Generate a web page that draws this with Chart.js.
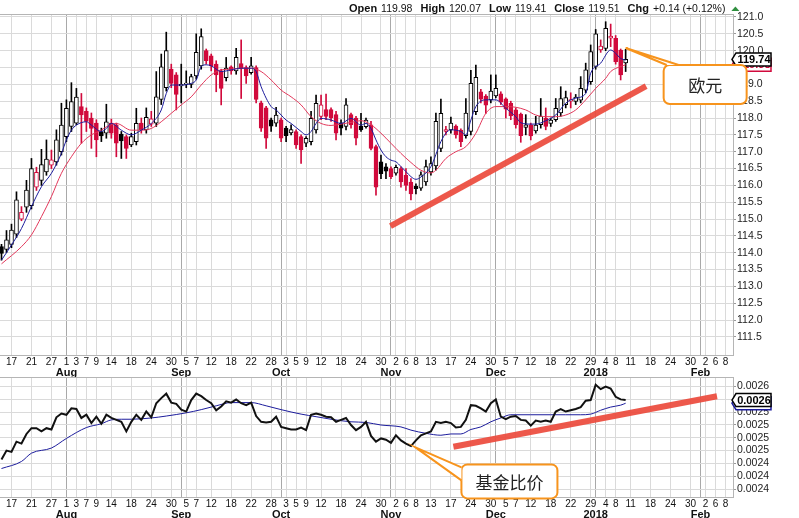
<!DOCTYPE html>
<html>
<head>
<meta charset="utf-8">
<script src="https://cdn.jsdelivr.net/npm/chart.js@4.4.1/dist/chart.umd.min.js"></script>
<style>
  html, body { margin: 0; padding: 0; background: #fff; }
  body { width: 799px; height: 518px; position: relative; overflow: hidden; }
  #wrapTop { position: absolute; left: -1px; top: 0; width: 800px; height: 377px; }
  #wrapBottom { position: absolute; left: -1px; top: 376px; width: 800px; height: 142px; }
</style>
</head>
<body>
<div id="wrapTop"><canvas id="priceChart"></canvas></div>
<div id="wrapBottom"><canvas id="ratioChart"></canvas></div>
<script>
// trading days shown on the axis (data runs to 2018-01-10, axis to 2018-02-09)
const dates = [
  "2017-07-13","2017-07-14","2017-07-17","2017-07-18","2017-07-19","2017-07-20","2017-07-21","2017-07-24","2017-07-25","2017-07-26","2017-07-27","2017-07-28","2017-07-31",
  "2017-08-01","2017-08-02","2017-08-03","2017-08-04","2017-08-07","2017-08-08","2017-08-09","2017-08-10","2017-08-11","2017-08-14","2017-08-15","2017-08-16","2017-08-17","2017-08-18","2017-08-21","2017-08-22","2017-08-23","2017-08-24","2017-08-25","2017-08-28","2017-08-29","2017-08-30","2017-08-31",
  "2017-09-01","2017-09-05","2017-09-06","2017-09-07","2017-09-08","2017-09-11","2017-09-12","2017-09-13","2017-09-14","2017-09-15","2017-09-18","2017-09-19","2017-09-20","2017-09-21","2017-09-22","2017-09-25","2017-09-26","2017-09-27","2017-09-28","2017-09-29",
  "2017-10-02","2017-10-03","2017-10-04","2017-10-05","2017-10-06","2017-10-09","2017-10-10","2017-10-11","2017-10-12","2017-10-13","2017-10-16","2017-10-17","2017-10-18","2017-10-19","2017-10-20","2017-10-23","2017-10-24","2017-10-25","2017-10-26","2017-10-27","2017-10-30","2017-10-31",
  "2017-11-01","2017-11-02","2017-11-03","2017-11-06","2017-11-07","2017-11-08","2017-11-09","2017-11-10","2017-11-13","2017-11-14","2017-11-15","2017-11-16","2017-11-17","2017-11-20","2017-11-21","2017-11-22","2017-11-24","2017-11-27","2017-11-28","2017-11-29","2017-11-30",
  "2017-12-01","2017-12-04","2017-12-05","2017-12-06","2017-12-07","2017-12-08","2017-12-11","2017-12-12","2017-12-13","2017-12-14","2017-12-15","2017-12-18","2017-12-19","2017-12-20","2017-12-21","2017-12-22","2017-12-26","2017-12-27","2017-12-28","2017-12-29",
  "2018-01-02","2018-01-03","2018-01-04","2018-01-05","2018-01-08","2018-01-09","2018-01-10","2018-01-11","2018-01-12","2018-01-16","2018-01-17","2018-01-18","2018-01-19","2018-01-22","2018-01-23","2018-01-24","2018-01-25","2018-01-26","2018-01-29","2018-01-30","2018-01-31",
  "2018-02-01","2018-02-02","2018-02-05","2018-02-06","2018-02-07","2018-02-08","2018-02-09"
];

const dayTicks = ["2017-07-17","2017-07-21","2017-07-27","2017-08-01","2017-08-03","2017-08-07","2017-08-09","2017-08-14","2017-08-18","2017-08-24","2017-08-30",
  "2017-09-05","2017-09-07","2017-09-12","2017-09-18","2017-09-22","2017-09-28","2017-10-03","2017-10-05","2017-10-09","2017-10-12","2017-10-18","2017-10-24","2017-10-30",
  "2017-11-02","2017-11-06","2017-11-08","2017-11-13","2017-11-17","2017-11-24","2017-11-30","2017-12-05","2017-12-07","2017-12-12","2017-12-18","2017-12-22","2017-12-29",
  "2018-01-04","2018-01-08","2018-01-11","2018-01-18","2018-01-24","2018-01-30","2018-02-02","2018-02-06","2018-02-08"];
const monthDates = ["2017-08-01","2017-09-01","2017-10-02","2017-11-01","2017-12-01","2018-01-02","2018-02-01"];
const monthNames = ["Aug","Sep","Oct","Nov","Dec","2018","Feb"];

const priceTicks = [121.0,120.5,120.0,119.5,119.0,118.5,118.0,117.5,117.0,116.5,116.0,115.5,115.0,114.5,114.0,113.5,113.0,112.5,112.0,111.5];
const ratioTicks = [0.00256,0.00254,0.00252,0.00250,0.00248,0.00246,0.00244,0.00242,0.00240];

// EUR candles
const opens = [114.18,114.10,114.25,114.55,115.00,115.35,115.40,115.95,116.15,116.40,
  116.60,116.70,117.00,117.45,117.75,117.85,118.34,118.20,118.00,117.85,
  117.60,117.55,117.85,117.80,117.52,117.45,117.20,117.30,117.85,117.65,
  117.82,117.85,118.55,118.90,119.45,119.28,118.95,119.00,119.00,119.25,
  119.55,120.00,119.85,119.60,119.40,119.20,119.52,119.40,119.62,119.50,
  119.35,119.50,118.45,118.30,117.95,117.85,117.95,117.70,117.56,117.60,
  117.45,117.25,117.30,117.65,118.05,118.25,118.25,118.10,117.85,117.75,
  118.10,118.00,117.75,117.74,117.80,117.15,116.70,116.55,116.50,116.36,
  116.50,116.30,116.10,115.97,115.92,116.10,116.40,116.58,117.10,117.60,
  117.65,117.76,117.64,117.48,117.60,118.19,118.78,118.65,118.54,118.66,
  118.72,118.57,118.44,118.24,118.12,117.72,117.80,117.62,117.80,117.99,
  117.84,117.95,118.15,118.40,118.50,118.49,118.53,118.83,119.08,119.53,
  120.02,120.07,120.37,120.37,120.02,119.64];
const highs = [114.25,114.66,114.85,115.81,115.37,116.15,116.80,116.54,117.07,117.35,
  117.05,117.65,118.44,118.54,119.05,118.88,118.73,118.30,118.15,117.95,
  117.70,118.41,117.97,117.85,117.60,117.50,117.55,118.29,118.00,118.30,
  118.20,119.38,119.90,120.55,119.60,119.35,119.60,119.40,119.30,120.50,
  120.65,120.05,119.90,119.70,119.45,119.80,119.55,120.07,120.32,119.55,
  119.80,119.55,118.50,118.35,118.00,118.32,118.00,117.75,117.80,117.65,
  117.50,117.45,118.20,118.68,118.68,118.71,118.30,118.20,117.95,118.58,
  118.15,118.05,118.14,118.00,117.90,117.20,116.90,116.65,116.55,116.60,
  116.55,116.50,116.20,116.05,116.40,116.75,116.85,118.15,118.56,117.75,
  118.03,117.80,117.68,118.58,119.42,119.57,118.85,118.70,119.28,119.28,
  118.78,118.60,118.50,118.30,118.15,118.10,117.85,118.05,118.58,118.30,
  118.00,118.58,118.93,118.80,118.75,118.70,119.23,119.63,120.17,120.63,
  120.32,120.86,120.79,120.45,120.05,120.04];
const lows = [113.78,114.00,114.15,114.45,114.95,115.20,115.30,115.85,116.00,116.30,
  116.50,116.60,116.90,117.30,117.60,117.80,117.25,117.60,117.10,116.85,
  117.30,117.40,117.40,116.85,116.80,116.80,117.15,117.20,117.55,117.55,
  117.75,117.75,118.40,118.80,118.90,118.24,118.45,118.90,118.90,119.15,
  119.45,119.60,119.40,118.78,118.39,119.10,119.30,119.30,118.58,119.03,
  119.30,118.45,117.60,117.10,117.60,117.75,117.30,117.30,117.50,117.10,
  116.65,117.15,117.20,117.55,117.95,117.95,117.90,117.35,117.50,117.65,
  117.70,117.20,117.60,117.70,117.05,115.71,116.20,116.20,116.20,116.30,
  115.95,115.85,115.57,115.75,115.85,116.00,116.30,116.45,117.00,117.50,
  117.55,117.40,117.15,117.40,117.50,118.10,118.45,118.14,118.45,118.60,
  118.40,118.00,117.95,117.70,117.28,117.50,117.35,117.55,117.70,117.65,
  117.75,117.90,118.05,118.30,118.30,118.40,118.45,118.75,119.00,119.45,
  119.95,120.00,120.12,119.60,119.13,119.38];
const closes = [113.98,114.38,114.67,115.57,115.20,115.86,116.50,116.39,116.62,116.78,
  116.76,117.35,117.79,118.29,118.49,118.62,118.09,117.90,117.69,117.35,
  117.47,117.89,117.55,117.25,117.32,117.10,117.45,117.84,117.65,118.02,
  117.98,118.63,119.52,120.00,119.03,118.70,119.00,119.04,119.23,119.95,
  120.42,119.70,119.55,119.28,118.88,119.48,119.40,119.80,119.48,119.25,
  119.55,118.55,117.70,117.40,117.76,118.09,117.40,117.48,117.66,117.20,
  117.05,117.40,117.99,118.44,118.39,118.05,118.00,117.55,117.70,118.39,
  117.80,117.40,117.65,117.94,117.10,115.95,116.35,116.42,116.26,116.54,
  116.10,116.00,115.75,115.90,116.31,116.56,116.65,117.90,118.14,117.66,
  117.85,117.50,117.30,118.15,119.03,119.21,118.56,118.38,118.80,118.88,
  118.47,118.26,118.06,117.80,117.48,117.80,117.47,117.79,118.06,117.75,
  117.94,118.29,118.58,118.61,118.55,118.62,118.88,119.43,119.97,120.50,
  120.14,120.66,120.43,119.67,119.28,119.74];

// moving averages (bar index -> value)
const fastIdx = [0,2,4,6,8,10,12,13,14,15, 17,18,20,21,22,24,26,28,30,32,
  33,34,36,38,39,40,41,42,44,46, 48,50,51,52,54,55,57,58,60,61,
  62,63,64,66,68,70,72,73,74,75, 76,77,78,79,80,81,82,83,84,86,
  88,89,90,92,93,94,95,97,99,101, 103,104,106,107,109,111,113,115,117,118,
  120,122,123,124,125];
const fastVal = [113.78,114.23,114.72,115.37,115.96,116.36,116.95,117.35,117.64,117.79,
  117.89,117.79,117.60,117.69,117.84,117.64,117.50,117.64,117.84,118.24,
  118.73,118.98,118.98,119.03,119.13,119.53,119.58,119.55,119.38,119.43,
  119.48,119.48,119.38,118.93,118.34,118.24,117.94,117.84,117.60,117.50,
  117.60,117.84,117.99,117.94,117.84,117.99,117.79,117.84,117.69,117.35,
  117.05,116.85,116.75,116.70,116.56,116.41,116.26,116.18,116.25,116.56,
  117.30,117.55,117.65,117.60,117.50,117.94,118.34,118.54,118.54,118.29,
  118.04,117.86,117.82,117.82,117.92,118.09,118.44,118.59,118.73,119.33,
  119.63,120.02,119.92,119.77,119.72];
const slowIdx = [0,4,6,8,10,12,14,16,18,20, 21,23,26,28,30,32,34,36,38,40,
  42,44,46,48,50,52,54,56,58,60, 62,64,66,68,70,72,74,76,78,80,
  82,84,86,87,89,91,93,95,97,99, 101,103,105,107,109,111,113,115,117,119,
  121,122,124,125];
const slowVal = [113.67,114.18,114.53,115.07,115.67,116.36,116.85,117.25,117.50,117.64,
  117.74,117.84,117.64,117.64,117.69,117.89,118.14,118.39,118.63,118.98,
  119.28,119.43,119.45,119.48,119.48,119.38,119.13,118.83,118.63,118.39,
  118.04,117.84,117.78,117.82,117.87,117.92,117.80,117.55,117.25,116.95,
  116.68,116.45,116.37,116.45,116.80,117.00,117.15,117.55,118.14,118.34,
  118.34,118.32,118.24,118.09,118.04,118.04,118.09,118.24,118.54,118.88,
  119.18,119.38,119.53,119.58];

// fund price ratio (lower panel)
const ratio = [0.002446,0.002460,0.002458,0.002474,0.002471,0.002486,0.002495,0.002495,0.002490,0.002495,
  0.002493,0.002512,0.002518,0.002516,0.002526,0.002525,0.002511,0.002516,0.002503,0.002513,
  0.002502,0.002516,0.002511,0.002508,0.002505,0.002490,0.002505,0.002516,0.002508,0.002521,
  0.002512,0.002534,0.002542,0.002549,0.002535,0.002533,0.002524,0.002521,0.002539,0.002549,
  0.002545,0.002539,0.002534,0.002523,0.002529,0.002537,0.002535,0.002540,0.002534,0.002531,
  0.002535,0.002514,0.002505,0.002504,0.002505,0.002513,0.002497,0.002495,0.002493,0.002493,
  0.002496,0.002492,0.002516,0.002518,0.002516,0.002513,0.002512,0.002505,0.002508,0.002511,
  0.002500,0.002492,0.002497,0.002505,0.002483,0.002474,0.002479,0.002477,0.002472,0.002484,
  0.002476,0.002471,0.002467,0.002476,0.002484,0.002487,0.002490,0.002505,0.002503,0.002505,
  0.002503,0.002496,0.002497,0.002508,0.002531,0.002530,0.002526,0.002521,0.002534,0.002540,
  0.002513,0.002509,0.002513,0.002514,0.002508,0.002507,0.002499,0.002507,0.002505,0.002507,
  0.002505,0.002521,0.002525,0.002521,0.002523,0.002525,0.002528,0.002538,0.002539,0.002563,
  0.002556,0.002560,0.002557,0.002544,0.002540,0.002539];
const ratioMaIdx = [0,4,6,10,13,17,20,22,24,26, 30,33,37,40,43,46,50,53,56,60,
  63,66,70,73,76,80,82,85,88,90, 92,94,96,98,100,102,106,110,113,116,
  118,120,122,124,125];
const ratioMaVal = [0.002432,0.002443,0.002456,0.002464,0.002479,0.002496,0.002502,0.002508,0.002509,0.002509,
  0.002511,0.002514,0.002519,0.002524,0.002530,0.002535,0.002535,0.002530,0.002524,0.002517,
  0.002513,0.002509,0.002505,0.002504,0.002500,0.002497,0.002492,0.002487,0.002484,0.002486,
  0.002486,0.002493,0.002497,0.002505,0.002511,0.002516,0.002516,0.002516,0.002516,0.002516,
  0.002517,0.002523,0.002528,0.002531,0.002534];

// hand-drawn annotations: [bar index, value]
const priceTrend = [[77.9, 114.79], [129.1, 118.95]];
const ratioTrend = [[90.5, 0.002466], [143.3, 0.002545]];
const priceCalloutTip = [125, 120.08];
const ratioCalloutTip = [82.9, 0.002465];
const priceCalloutText = "欧元";
const ratioCalloutText = "基金比价";
const ratioBoxText = "0.0026";

const header = [["Open", "119.98"], ["High", "120.07"], ["Low", "119.41"], ["Close", "119.51"], ["Chg", "+0.14 (+0.12%)"]];

const RED = "#d10a3c";
const FONT = '"Liberation Sans", Arial, sans-serif';
Chart.defaults.font.family = FONT;
Chart.defaults.animation = false;

// StockCharts colouring: hollow if close > open, red if close < previous close
const candleColor = closes.map((c, i) => (i > 0 && c < closes[i - 1]) ? RED : "#000");
const candleFill = closes.map((c, i) => c > opens[i] ? "#fff" : candleColor[i]);

function gridColor(c) {
  const d = dates[c.index];
  if (monthDates.includes(d)) return "#a9a9a9";
  if (dayTicks.includes(d)) return "#dadada";
  return "rgba(0,0,0,0)";
}

function xAxes(h1, h2) {
  return {
    x: {
      type: "category", offset: true, weight: 0,
      grid: { offset: false, drawTicks: false, color: gridColor },
      border: { display: true, color: "#b5b5b5" },
      ticks: {
        autoSkip: false, maxRotation: 0, minRotation: 0, padding: 1, color: "#111", font: { size: 10 },
        callback: (v, i) => dayTicks.includes(dates[i]) ? String(+dates[i].slice(8)) : ""
      },
      afterFit: s => { s.height = h1; }
    },
    x2: {
      type: "category", offset: true, weight: 1,
      grid: { display: false, drawTicks: false },
      border: { display: false },
      ticks: {
        autoSkip: false, maxRotation: 0, minRotation: 0, padding: 0, color: "#111", font: { size: 11, weight: "bold" },
        callback: (v, i) => { const k = monthDates.indexOf(dates[i]); return k >= 0 ? monthNames[k] : ""; }
      },
      afterFit: s => { s.height = h2; }
    }
  };
}

function yAxis(min, max, tickValues, digits) {
  return {
    position: "right", min: min, max: max,
    afterBuildTicks: s => { s.ticks = tickValues.map(v => ({ value: v })); },
    afterFit: s => { s.width = 66; s.paddingTop = 0; s.paddingBottom = 0; },
    grid: { color: "#dadada", tickLength: 3, tickColor: "#9a9a9a" },
    border: { display: true, color: "#b5b5b5" },
    ticks: { autoSkip: false, padding: 1, color: "#222", font: { size: 10.5 }, callback: v => Number(v).toFixed(digits) }
  };
}

function drawTrend(ctx, xs, ys, pts) {
  ctx.save();
  ctx.strokeStyle = "rgba(236,74,60,0.92)";
  ctx.lineWidth = 6;
  ctx.beginPath();
  ctx.moveTo(xs.getPixelForValue(pts[0][0]), ys.getPixelForValue(pts[0][1]));
  ctx.lineTo(xs.getPixelForValue(pts[1][0]), ys.getPixelForValue(pts[1][1]));
  ctx.stroke();
  ctx.restore();
}

function roundRect(ctx, x, y, w, h, r) {
  ctx.beginPath();
  ctx.moveTo(x + r, y);
  ctx.arcTo(x + w, y, x + w, y + h, r);
  ctx.arcTo(x + w, y + h, x, y + h, r);
  ctx.arcTo(x, y + h, x, y, r);
  ctx.arcTo(x, y, x + w, y, r);
  ctx.closePath();
}

function drawCallout(ctx, tx, ty, box, tail, text) {
  ctx.save();
  const bx = tx + box[0], by = ty + box[1];
  const a = [tx + tail[0][0], ty + tail[0][1]], b = [tx + tail[1][0], ty + tail[1][1]];
  ctx.strokeStyle = "#f7941d";
  ctx.lineWidth = 2;
  ctx.fillStyle = "#fff";
  roundRect(ctx, bx, by, box[2], box[3], 6);
  ctx.fill();
  ctx.stroke();
  ctx.beginPath();
  ctx.moveTo(a[0], a[1]); ctx.lineTo(tx, ty); ctx.lineTo(b[0], b[1]); ctx.closePath();
  ctx.fill();
  ctx.beginPath();
  ctx.moveTo(a[0], a[1]); ctx.lineTo(tx, ty); ctx.lineTo(b[0], b[1]);
  ctx.stroke();
  ctx.fillStyle = "#222";
  ctx.font = '17px "Noto Sans CJK SC", sans-serif';
  ctx.textAlign = "center";
  ctx.textBaseline = "middle";
  ctx.fillText(text, bx + box[2] / 2, by + box[3] / 2 + 1);
  ctx.restore();
}

function drawValueBox(ctx, x, y, text, color) {
  ctx.save();
  ctx.beginPath();
  ctx.moveTo(x, y);
  ctx.lineTo(x + 4, y - 6.5);
  ctx.lineTo(x + 39, y - 6.5);
  ctx.lineTo(x + 39, y + 6.5);
  ctx.lineTo(x + 4, y + 6.5);
  ctx.closePath();
  ctx.fillStyle = "#fff";
  ctx.fill();
  ctx.strokeStyle = color;
  ctx.lineWidth = 1.5;
  ctx.stroke();
  ctx.fillStyle = color;
  ctx.font = "bold 11px " + FONT;
  ctx.textAlign = "center";
  ctx.textBaseline = "middle";
  ctx.fillText(text, x + 22, y + 0.5);
  ctx.restore();
}

function drawFrame(ctx, a) {
  ctx.save();
  ctx.strokeStyle = "#b5b5b5";
  ctx.lineWidth = 1;
  ctx.beginPath();
  ctx.moveTo(a.left, Math.round(a.top) + 0.5);
  ctx.lineTo(a.right, Math.round(a.top) + 0.5);
  ctx.stroke();
  ctx.restore();
}

const priceDecor = {
  id: "priceDecor",
  afterDraw(chart) {
    const { ctx, chartArea, scales } = chart;
    drawFrame(ctx, chartArea);
    drawTrend(ctx, scales.x, scales.y, priceTrend);
    const tx = scales.x.getPixelForValue(priceCalloutTip[0]);
    const ty = scales.y.getPixelForValue(priceCalloutTip[1]);
    drawValueBox(ctx, chartArea.right - 1, scales.y.getPixelForValue(slowVal[slowVal.length - 1]), slowVal[slowVal.length - 1].toFixed(2), RED);
    drawValueBox(ctx, chartArea.right - 1, scales.y.getPixelForValue(closes[closes.length - 1]), closes[closes.length - 1].toFixed(2), "#000");
    drawCallout(ctx, tx, ty, [38, 17, 83, 39], [[41, 17], [53, 17]], priceCalloutText);
    // quote header
    ctx.save();
    let x = 350;
    ctx.fillStyle = "#111";
    ctx.textBaseline = "alphabetic";
    header.forEach(([lab, val]) => {
      ctx.font = "bold 11px " + FONT;
      ctx.fillText(lab, x, 12);
      x += ctx.measureText(lab).width + 4;
      ctx.font = "10.5px " + FONT;
      ctx.fillText(val, x, 12);
      x += ctx.measureText(val).width + 8;
    });
    ctx.fillStyle = "#2f8f3f";
    ctx.beginPath();
    ctx.moveTo(x - 2, 11); ctx.lineTo(x + 6, 11); ctx.lineTo(x + 2, 6.5); ctx.closePath();
    ctx.fill();
    ctx.restore();
  }
};

const ratioDecor = {
  id: "ratioDecor",
  afterDraw(chart) {
    const { ctx, chartArea, scales } = chart;
    drawFrame(ctx, chartArea);
    drawTrend(ctx, scales.x, scales.y, ratioTrend);
    const lastMa = ratioMaVal[ratioMaVal.length - 1];
    drawValueBox(ctx, chartArea.right - 1, scales.y.getPixelForValue(lastMa), ratioBoxText, "#1c1c9c");
    drawValueBox(ctx, chartArea.right - 1, scales.y.getPixelForValue(ratio[ratio.length - 1]), ratioBoxText, "#000");
    const tx = scales.x.getPixelForValue(ratioCalloutTip[0]);
    const ty = scales.y.getPixelForValue(ratioCalloutTip[1]);
    drawCallout(ctx, tx, ty, [46, 17, 96, 34], [[46, 20], [46, 33]], ratioCalloutText);
  }
};

new Chart(document.getElementById("priceChart"), {
  type: "bar",
  data: {
    labels: dates,
    datasets: [
      {
        type: "line", label: "fast MA", order: 0,
        data: fastIdx.map((k, i) => ({ x: dates[k], y: fastVal[i] })),
        borderColor: "#1c1c9c", borderWidth: 1, pointRadius: 0, cubicInterpolationMode: "monotone"
      },
      {
        type: "line", label: "slow MA", order: 0,
        data: slowIdx.map((k, i) => ({ x: dates[k], y: slowVal[i] })),
        borderColor: "#e2375a", borderWidth: 1, pointRadius: 0, cubicInterpolationMode: "monotone"
      },
      {
        label: "body", order: 1, grouped: false,
        data: opens.map((o, i) => [o, closes[i]]),
        backgroundColor: candleFill, borderColor: candleColor, borderWidth: 1, borderSkipped: false,
        barThickness: 4, minBarLength: 1
      },
      {
        label: "wick", order: 2, grouped: false,
        data: lows.map((l, i) => [l, highs[i]]),
        backgroundColor: candleColor, borderWidth: 0, barThickness: 1
      }
    ]
  },
  options: {
    responsive: true, maintainAspectRatio: false,
    layout: { padding: { top: 14, left: 0, right: 0, bottom: 0 } },
    plugins: { legend: { display: false }, tooltip: { enabled: false } },
    scales: Object.assign(xAxes(11, 11), { y: yAxis(110.964, 121.089, priceTicks, 1) })
  },
  plugins: [priceDecor]
});

new Chart(document.getElementById("ratioChart"), {
  type: "line",
  data: {
    labels: dates,
    datasets: [
      {
        label: "ratio MA", order: 1,
        data: ratioMaIdx.map((k, i) => ({ x: dates[k], y: ratioMaVal[i] })),
        borderColor: "#1c1c9c", borderWidth: 1, pointRadius: 0, cubicInterpolationMode: "monotone"
      },
      {
        label: "ratio", order: 0,
        data: ratio,
        borderColor: "#111", borderWidth: 2, pointRadius: 0, tension: 0
      }
    ]
  },
  options: {
    responsive: true, maintainAspectRatio: false,
    layout: { padding: { top: 1, left: 0, right: 0, bottom: 0 } },
    plugins: { legend: { display: false }, tooltip: { enabled: false } },
    scales: Object.assign(xAxes(11, 10), { y: yAxis(0.0023875, 0.002575, ratioTicks, 4) })
  },
  plugins: [ratioDecor]
});
</script>
</body>
</html>
